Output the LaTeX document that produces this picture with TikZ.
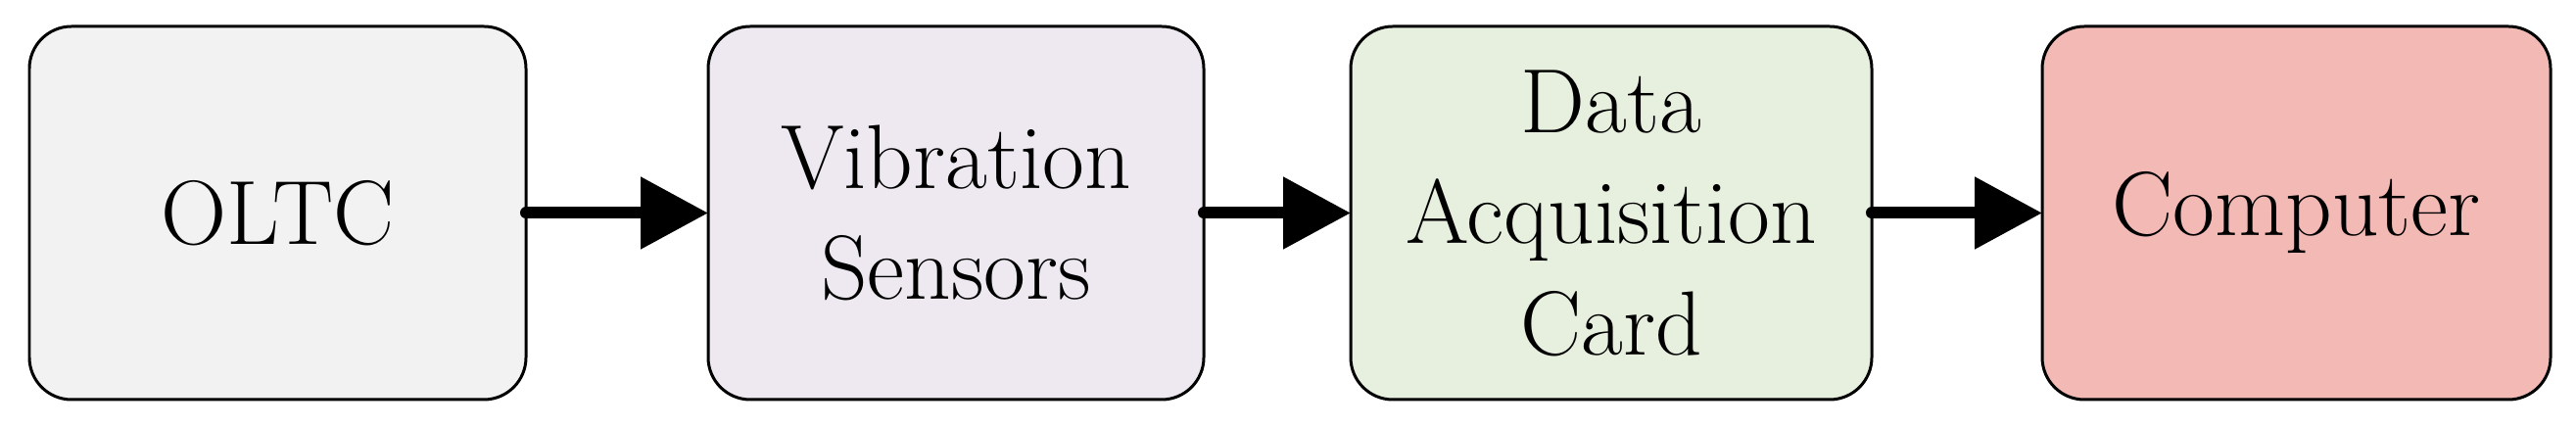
\documentclass[tikz,border=0pt]{standalone}
\usetikzlibrary{arrows.meta, positioning}
\definecolor{cgrey}{HTML}{F2F2F2}
\definecolor{clilac}{HTML}{EEE9F1}
\definecolor{cgreen}{HTML}{E7F0DE}
\definecolor{cpink}{HTML}{F2B9B5}
\tikzset{
  every picture/.style={line width=0.85pt},
  block/.style={draw=black, fill=#1, rounded corners=0.43cm, align=center,
    inner sep=0pt, outer sep=0pt, minimum height=3.81cm,
    font=\fontsize{26.5}{32.3}\selectfont},
  block/.default=cgrey,
  arrow/.style={-{Triangle[length=0.69cm, width=0.71cm]}, line width=0.12cm, line cap=round},
}
\begin{document}
\begin{tikzpicture}
  \useasboundingbox (0,0) rectangle (26.3,-4.37);
  \node[block=cgrey, minimum width=5.07cm] (oltc) at (2.835,-2.175) {OLTC};
  \node[block=clilac, minimum width=5.06cm] (sensor) at (9.76,-2.175) {Vibration\\Sensors};
  \node[block=cgreen, minimum width=5.32cm] (daq) at (16.45,-2.175) {Data\\Acquisition\\Card};
  \node[block=cpink, minimum width=5.19cm] (pc) at (23.445,-2.175) {Computer};
  \foreach \a/\b in {oltc/sensor, sensor/daq, daq/pc}
    \draw[arrow] (\a) -- (\b);
\end{tikzpicture}
\end{document}
